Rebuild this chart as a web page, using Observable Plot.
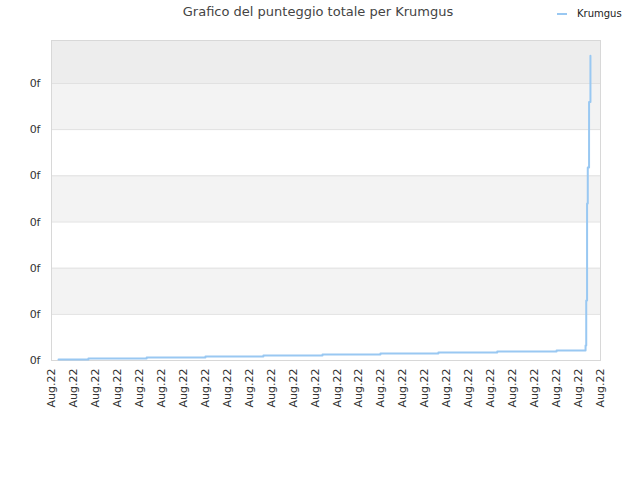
<!DOCTYPE html>
<html>
<head>
<meta charset="utf-8">
<script src="https://cdn.jsdelivr.net/npm/d3@7"></script>
<script src="https://cdn.jsdelivr.net/npm/@observablehq/plot@0.6"></script>
<style>
  html, body { margin: 0; padding: 0; background: #fff; }
  #wrap { position: relative; width: 640px; height: 480px; font-family: "DejaVu Sans", sans-serif; }
  #title { position: absolute; top: 4px; left: 0; width: 636px; text-align: center; font-size: 13px; color: #444; }
  #legend { position: absolute; top: 8px; left: 557px; font-size: 10px; color: #222; display: flex; align-items: center; }
  #legend .sw { width: 10px; height: 2px; background: #99c8f2; margin-right: 10px; }
</style>
</head>
<body>
<div id="wrap">
  <div id="title">Grafico del punteggio totale per Krumgus</div>
  <div id="legend"><span class="sw"></span><span>Krumgus</span></div>
  <div id="chart"></div>
</div>
<script>
// Data: cumulative total score over time (step line)
const times = [
  "2022-08-01T07:40Z", "2022-08-02T16:20Z", "2022-08-05T08:00Z", "2022-08-08T00:15Z",
  "2022-08-10T15:35Z", "2022-08-13T08:10Z", "2022-08-15T23:30Z", "2022-08-18T14:50Z",
  "2022-08-21T07:10Z", "2022-08-24T00:00Z", "2022-08-25T07:40Z", "2022-08-25T08:25Z",
  "2022-08-25T09:20Z", "2022-08-25T10:05Z", "2022-08-25T11:30Z", "2022-08-25T13:00Z"
];
const scores = [20, 43, 65, 87, 108, 130, 152, 173, 195, 217, 325, 1300, 3400, 4180, 5600, 6600];
const seriesName = "Krumgus";

// Axes
const xTickDates = d3.range(0, 26).map(i => new Date(Date.UTC(2022, 7, 1 + i)));
const xTickLabel = "Aug.22";
const yTicks = [0, 1000, 2000, 3000, 4000, 5000, 6000];
const yTickLabel = "0f";
const yMax = 6930;
const bandStarts = [0, 1000, 2000, 3000, 4000, 5000, 6000];
const bandEnds = [1000, 2000, 3000, 4000, 5000, 6000, 6930];
const bandFills = ["#ffffff", "#f3f3f3", "#ffffff", "#f3f3f3", "#ffffff", "#f3f3f3", "#ededed"];

const data = times.map((t, i) => ({date: new Date(t), score: scores[i], name: seriesName}));
const bands = bandStarts.map((s, i) => ({y1: s, y2: bandEnds[i], fill: bandFills[i]}));

const chart = Plot.plot({
  width: 640,
  height: 480,
  marginLeft: 51,
  marginRight: 40,
  marginTop: 40,
  marginBottom: 120,
  style: {fontFamily: "DejaVu Sans, sans-serif", fontSize: "11px", color: "#333", background: "transparent"},
  x: {
    type: "utc",
    domain: [xTickDates[0], xTickDates[xTickDates.length - 1]],
    ticks: xTickDates,
    tickFormat: () => xTickLabel,
    tickRotate: -90,
    tickSize: 0,
    tickPadding: 8,
    label: null
  },
  y: {
    domain: [0, yMax],
    ticks: yTicks,
    tickFormat: () => yTickLabel,
    tickSize: 0,
    tickPadding: 11,
    label: null
  },
  marks: [
    Plot.rect(bands, {y1: "y1", y2: "y2", fill: d => d.fill}),
    Plot.ruleY(yTicks, {stroke: "#e0e0e0", strokeWidth: 1}),
    Plot.frame({stroke: "#d8d8d8", strokeWidth: 1}),
    Plot.line(data, {x: "date", y: "score", curve: "step-after", stroke: "#99c8f2", strokeWidth: 2}),
    Plot.axisY({ticks: yTicks, tickFormat: () => yTickLabel, tickSize: 0, tickPadding: 11, label: null}),
    Plot.axisX({ticks: xTickDates, tickFormat: () => xTickLabel, tickRotate: -90, tickSize: 0, tickPadding: 8, label: null})
  ]
});
document.getElementById("chart").appendChild(chart);
</script>
</body>
</html>
